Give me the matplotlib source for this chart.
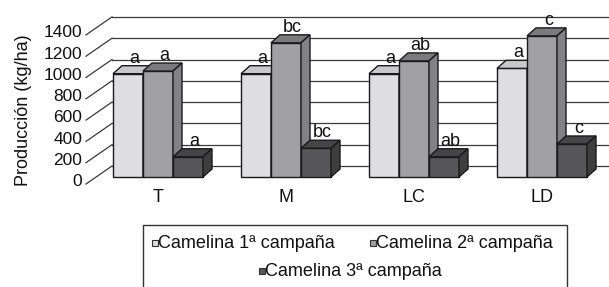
import matplotlib
matplotlib.use("Agg")
import matplotlib.pyplot as plt
from matplotlib.patches import Polygon, Rectangle

plt.rcParams["font.family"] = ["Liberation Sans", "DejaVu Sans"]

# data
categories = ["T", "M", "LC", "LD"]
series = ["Camelina 1ª campaña", "Camelina 2ª campaña", "Camelina 3ª campaña"]
camp1 = [970, 970, 970, 1020]
camp2 = [995, 1260, 1090, 1325]
camp3 = [190, 270, 190, 310]
letters1 = ["a", "a", "a", "a"]
letters2 = ["a", "bc", "ab", "c"]
letters3 = ["a", "bc", "ab", "c"]
yticks = [0, 200, 400, 600, 800, 1000, 1200, 1400]

# pseudo-3d geometry (pixel scale: 128 px per category, 0.1065 px per unit)
SX, SY = 128.0, 0.1065
W = 30 / SX                      # bar width
DX, DY = 9 / SX, 8 / SY          # bar depth
BACK_X, BACK_DY = -46 / SX, 11 / SY
FRONT_X, FRONT_DY = -72 / SX, -7 / SY

FACE = ["#dedee0", "#a1a1a4", "#56565a"]
TOP = ["#c9c9cb", "#7b7b7e", "#454548"]
SIDE = ["#b5b5b7", "#828285", "#3e3e41"]
EDGE = "#1a1a1a"

fig = plt.figure(figsize=(6.09, 2.87), dpi=100)
ax = fig.add_axes([0, 0, 1, 1])
ax.set_xlim(-158 / SX, (609 - 158) / SX)
ax.set_ylim(-110 / SY, 177 / SY)
ax.axis("off")

# walls / gridlines
for v in yticks:
    ax.plot([FRONT_X, BACK_X], [v + FRONT_DY, v + BACK_DY], color="#3a3a3a", lw=0.9)
    ax.plot([BACK_X, 5], [v + BACK_DY, v + BACK_DY], color="#3a3a3a", lw=0.9)
    ax.text(FRONT_X - 4 / SX, v + FRONT_DY + 20, f"{v}", ha="right", va="center",
            fontsize=12.5, color="#111")

values = [camp1, camp2, camp3]
letters = [letters1, letters2, letters3]
for j, c in enumerate(range(len(categories))):
    for i in range(3):
        v = values[i][j]
        xl = c + (i - 1.5) * W
        xr = xl + W
        ax.add_patch(Rectangle((xl, 0), W, v, facecolor=FACE[i], edgecolor=EDGE, lw=1, zorder=3))
        ax.add_patch(Polygon([(xl, v), (xr, v), (xr + DX, v + DY), (xl + DX, v + DY)],
                             closed=True, facecolor=TOP[i], edgecolor=EDGE, lw=1, zorder=3))
        ax.add_patch(Polygon([(xr, 0), (xr + DX, DY), (xr + DX, v + DY), (xr, v)],
                             closed=True, facecolor=SIDE[i], edgecolor=EDGE, lw=1, zorder=3))
        ax.text(xl + W / 2 + DX / 2 + 2 / SX, v + DY - 8, letters[i][j], ha="center", va="bottom",
                fontsize=13, color="#111", zorder=4)
    ax.text(c, -20 / SY, categories[j], ha="center", va="center", fontsize=13, color="#111")

fig.text(24 / 609, 1 - 110 / 287, "Producción (kg/ha)", rotation=90, ha="center", va="center",
         fontsize=13, color="#111")

# legend
fig.patches.append(Rectangle((143 / 609, -0.2), (567 - 143) / 609, 0.2 + 1 - 225 / 287,
                             transform=fig.transFigure, facecolor="none", edgecolor="#333", lw=1))
leg_pos = [(155, 243), (373, 243), (262, 271)]
for i, (px, py) in enumerate(leg_pos):
    fig.patches.append(Rectangle(((px - 3) / 609, 1 - (py + 3) / 287), 6 / 609, 6 / 287,
                                 transform=fig.transFigure, facecolor=FACE[i], edgecolor="#333", lw=0.8))
    fig.text((px + 3) / 609, 1 - py / 287, series[i], ha="left", va="center", fontsize=13, color="#111")

fig.savefig("out.png", dpi=100)
